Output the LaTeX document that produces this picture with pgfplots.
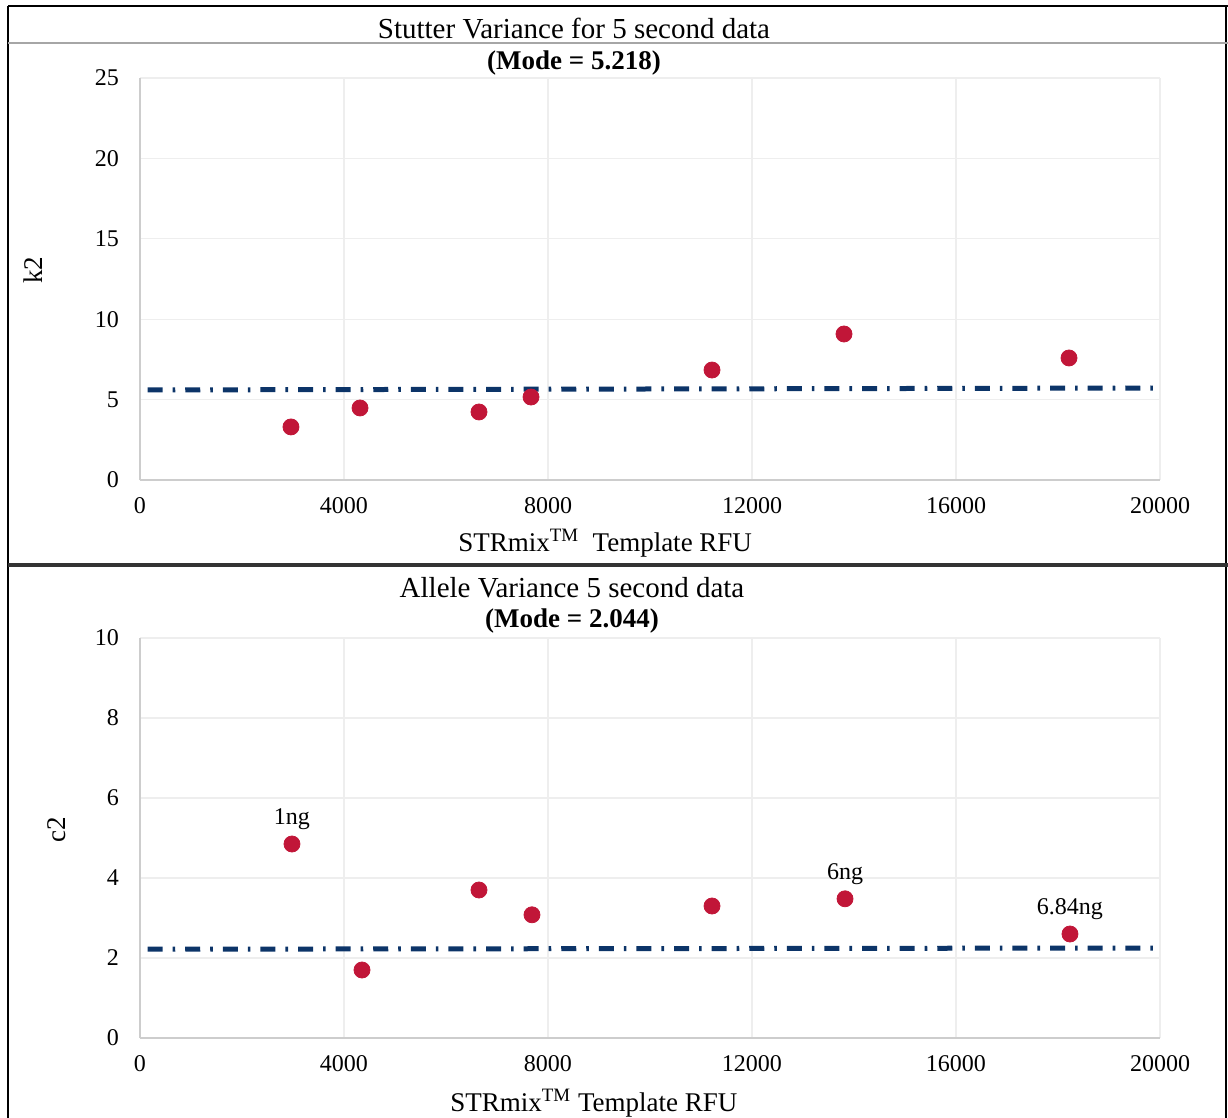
\documentclass[border=0pt]{standalone}
\usepackage{fontspec}
\setmainfont{Liberation Serif}
\usepackage{pgfplots}
\pgfplotsset{compat=1.18}

\definecolor{ptred}{RGB}{193,22,56}
\definecolor{modeblue}{RGB}{12,52,104}
\definecolor{gridgray}{RGB}{238,238,238}
\definecolor{axgray}{RGB}{205,205,205}

\tikzset{
  tag/.style={anchor=south, yshift=7pt, font=\fontsize{12}{14}\selectfont, inner sep=0pt},
}

\pgfplotsset{
  panel/.style={
    scale only axis,
    width=510pt,
    xmin=0, xmax=20000,
    xtick={0,4000,...,20000},
    grid=major,
    grid style={gridgray, line width=0.6pt},
    axis x line*=bottom, axis y line*=left,
    axis line style={axgray, line width=0.9pt, -},
    major tick length=0pt,
    scaled ticks=false,
    /pgf/number format/assume math mode=true,
    /pgf/number format/1000 sep={},
    tick label style={font=\fontsize{12}{14}\selectfont},
    xticklabel style={yshift=-5pt},
    yticklabel style={xshift=-7pt},
    label style={font=\fontsize{13.5}{16}\selectfont},
    clip=false,
  },
  pts/.style={only marks, mark=*, mark size=4pt, color=ptred, mark options={draw=ptred, fill=ptred}},
  modeline/.style={modeblue, line width=2.5pt, line cap=butt,
    dash pattern=on 7.5pt off 5pt on 1.3pt off 5pt, mark=none},
}

\begin{document}
\begin{tikzpicture}
\useasboundingbox (0,0) rectangle (614pt,-559pt);

% panel frames
\draw[black, line width=1pt] (4pt,-3pt) -- (614pt,-3pt);
\draw[black, line width=1.2pt] (4pt,-3pt) -- (4pt,-559pt);
\draw[black, line width=1.2pt] (613pt,-3pt) -- (613pt,-559pt);
\draw[black!80, line width=2pt] (4pt,-282.5pt) -- (614pt,-282.5pt);
\draw[black!35, line width=0.6pt] (4pt,-21.5pt) -- (614pt,-21.5pt);

% titles
\node[font=\fontsize{14.5}{17}\selectfont] at (287pt,-14.5pt) {Stutter Variance for 5 second data};
\node[font=\bfseries\fontsize{13.5}{16}\selectfont] at (287pt,-31.5pt) {(Mode = 5.218)};
\node[font=\fontsize{14.5}{17}\selectfont] at (286pt,-294pt) {Allele Variance 5 second data};
\node[font=\bfseries\fontsize{13.5}{16}\selectfont] at (286pt,-310.5pt) {(Mode = 2.044)};

% stutter variance
\begin{axis}[panel,
  at={(70pt,-240pt)}, anchor=south west,
  height=201pt,
  ymin=0, ymax=25, ytick={0,5,...,25},
  xlabel={STRmix\textsuperscript{TM}\ \ Template RFU},
  xlabel style={at={(axis description cs:0.456,0)}, anchor=center, yshift=-31.5pt},
  ylabel={k2},
  ylabel style={at={(axis description cs:-0.105,0.522)}, anchor=center, rotate=0},
]
\addplot[modeline] coordinates {(150,5.60) (19900,5.72)};
\addplot[pts] coordinates {
  (2960,3.30) (4314,4.48) (6647,4.23) (7667,5.16)
  (11216,6.84) (13804,9.08) (18216,7.59)
};
\end{axis}

% allele variance
\begin{axis}[panel,
  at={(70pt,-519pt)}, anchor=south west,
  height=200pt,
  ymin=0, ymax=10, ytick={0,2,...,10},
  xlabel={STRmix\textsuperscript{TM} Template RFU},
  xlabel style={at={(axis description cs:0.445,0)}, anchor=center, yshift=-32.5pt},
  ylabel={c2},
  ylabel style={at={(axis description cs:-0.0814,0.52)}, anchor=center, rotate=0},
]
\addplot[modeline] coordinates {(150,2.22) (19900,2.25)};
\addplot[pts] coordinates {
  (2980,4.85) (4353,1.70) (6647,3.70) (7686,3.08)
  (11216,3.30) (13824,3.48) (18235,2.60)
};
\node[tag] at (axis cs:2980,4.85) {1ng};
\node[tag] at (axis cs:13824,3.48) {6ng};
\node[tag] at (axis cs:18235,2.60) {6.84ng};
\end{axis}
\end{tikzpicture}
\end{document}
